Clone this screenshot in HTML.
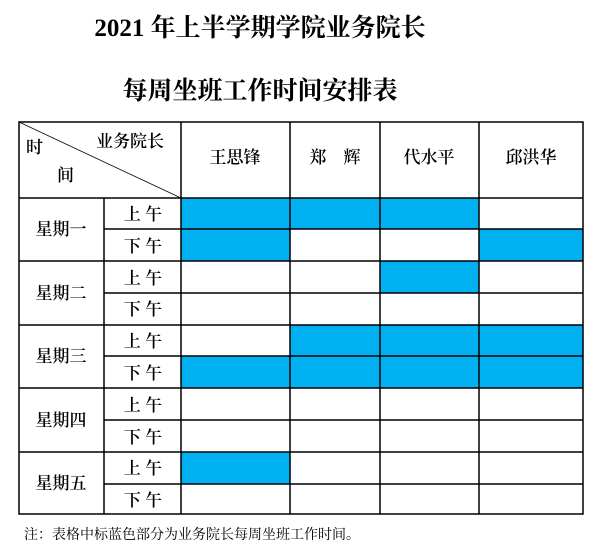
<!DOCTYPE html>
<html><head><meta charset="utf-8"><style>
html,body{margin:0;padding:0;background:#fff;width:607px;height:550px;overflow:hidden}
svg{display:block}
.t{font-family:"Liberation Serif","Noto Serif CJK SC",serif;font-weight:bold;font-size:25px}
.c{font-family:"Liberation Serif","Noto Serif CJK SC",serif;font-size:17px;font-weight:600}
.n{font-family:"Liberation Serif","Noto Serif CJK SC",serif;font-size:14px}
</style></head><body>
<svg width="607" height="550" xmlns="http://www.w3.org/2000/svg">
<text class="t" x="260" y="36" text-anchor="middle">2021 年上半学期学院业务院长</text>
<text class="t" x="260" y="99" text-anchor="middle">每周坐班工作时间安排表</text>
<g fill="#00B0F0">
<rect x="181" y="198" width="298" height="31"/>
<rect x="181" y="229" width="109" height="32"/>
<rect x="479" y="229" width="104" height="32"/>
<rect x="380" y="261" width="99" height="32"/>
<rect x="290" y="325" width="293" height="31"/>
<rect x="181" y="356" width="402" height="32"/>
<rect x="181" y="452" width="109" height="32"/>
</g>
<g stroke="#000" stroke-width="1.5" fill="none">
<rect x="19" y="122" width="564" height="392"/>
<line x1="181" y1="122" x2="181" y2="514"/>
<line x1="290" y1="122" x2="290" y2="514"/>
<line x1="380" y1="122" x2="380" y2="514"/>
<line x1="479" y1="122" x2="479" y2="514"/>
<line x1="104" y1="198" x2="104" y2="514"/>
<line x1="19" y1="198" x2="583" y2="198"/>
<line x1="19" y1="261" x2="583" y2="261"/>
<line x1="19" y1="325" x2="583" y2="325"/>
<line x1="19" y1="388" x2="583" y2="388"/>
<line x1="19" y1="452" x2="583" y2="452"/>
<line x1="104" y1="229" x2="583" y2="229"/>
<line x1="104" y1="293" x2="583" y2="293"/>
<line x1="104" y1="356" x2="583" y2="356"/>
<line x1="104" y1="420" x2="583" y2="420"/>
<line x1="104" y1="484" x2="583" y2="484"/>
</g>
<line x1="19" y1="122" x2="181" y2="198" stroke="#000" stroke-width="0.8"/>
<g class="c">
<text x="96" y="147">业务院长</text>
<text x="26" y="153">时</text>
<text x="57" y="181">间</text>
<text x="235" y="163" text-anchor="middle">王思锋</text>
<text x="335" y="163" text-anchor="middle">郑　辉</text>
<text x="429" y="163" text-anchor="middle">代水平</text>
<text x="531" y="163" text-anchor="middle">邱洪华</text>
<text x="61" y="235" text-anchor="middle">星期一</text>
<text x="61" y="299" text-anchor="middle">星期二</text>
<text x="61" y="362" text-anchor="middle">星期三</text>
<text x="61" y="426" text-anchor="middle">星期四</text>
<text x="61" y="489" text-anchor="middle">星期五</text>
<text x="143" y="220" text-anchor="middle">上 午</text>
<text x="143" y="252" text-anchor="middle">下 午</text>
<text x="143" y="284" text-anchor="middle">上 午</text>
<text x="143" y="315" text-anchor="middle">下 午</text>
<text x="143" y="347" text-anchor="middle">上 午</text>
<text x="143" y="379" text-anchor="middle">下 午</text>
<text x="143" y="411" text-anchor="middle">上 午</text>
<text x="143" y="443" text-anchor="middle">下 午</text>
<text x="143" y="474" text-anchor="middle">上 午</text>
<text x="143" y="506" text-anchor="middle">下 午</text>
</g>
<text class="n" x="24" y="539">注：表格中标蓝色部分为业务院长每周坐班工作时间。</text>
</svg>
</body></html>
